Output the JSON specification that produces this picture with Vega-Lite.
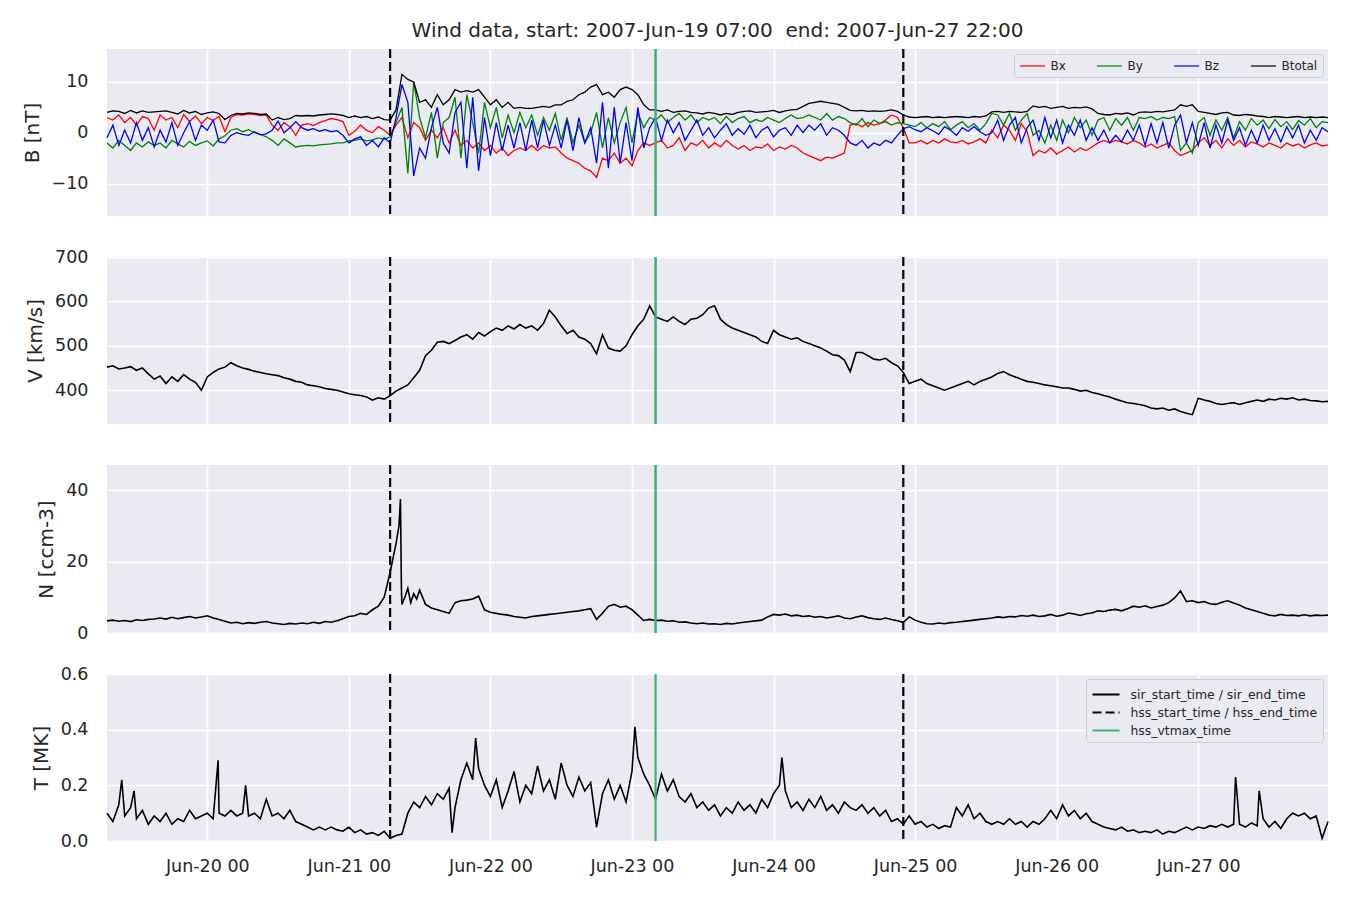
{
"$schema": "https://vega.github.io/schema/vega-lite/v6.json",
"background": "white",
"padding": {"left": 22, "top": 20, "right": 23, "bottom": 10},
"bounds": "flush",
"title": {"text": "Wind data, start: 2007-Jun-19 07:00\u00a0 end: 2007-Jun-27 22:00", "fontSize": 20, "font": "DejaVu Sans", "fontWeight": "normal", "color": "#262626", "anchor": "middle", "frame": "group", "offset": 7},
"datasets": {
"ev": [
{"t":"2007-06-21T07:00","kind":"hss_start_time / hss_end_time"},
{"t":"2007-06-24T22:00","kind":"hss_start_time / hss_end_time"},
{"t":"2007-06-23T04:00","kind":"hss_vtmax_time"}
],
"wind": [
{"t":"2007-06-19T07:00","Bx":3,"By":-2,"Bz":-1,"Btotal":4,"v":452,"n":3.4,"T":0.10},
{"t":"2007-06-19T08:00","Bx":2.5,"By":-3,"Bz":1.5,"Btotal":4.3,"v":455,"n":3.6,"T":0.07},
{"t":"2007-06-19T09:00","Bx":3.5,"By":-1.5,"Bz":-2.5,"Btotal":4.2,"v":448,"n":3.3,"T":0.13},
{"t":"2007-06-19T10:00","Bx":2,"By":-2.5,"Bz":0.5,"Btotal":3.8,"v":450,"n":3.5,"T":0.09},
{"t":"2007-06-19T11:00","Bx":3,"By":-3.5,"Bz":-2,"Btotal":4.4,"v":453,"n":3.2,"T":0.12},
{"t":"2007-06-19T12:00","Bx":1.5,"By":-2,"Bz":2,"Btotal":3.9,"v":445,"n":3.7,"T":0.08},
{"t":"2007-06-19T13:00","Bx":3.2,"By":-2.8,"Bz":-1.5,"Btotal":4.3,"v":450,"n":3.5,"T":0.11},
{"t":"2007-06-19T14:00","Bx":2.8,"By":-1.8,"Bz":1,"Btotal":4,"v":437,"n":3.8,"T":0.06},
{"t":"2007-06-19T15:00","Bx":0.5,"By":-2.5,"Bz":-2.8,"Btotal":4.1,"v":425,"n":3.9,"T":0.09},
{"t":"2007-06-19T16:00","Bx":3.5,"By":-2,"Bz":0.5,"Btotal":4.2,"v":432,"n":4.2,"T":0.07},
{"t":"2007-06-19T17:00","Bx":2.5,"By":-3,"Bz":-1.8,"Btotal":4.3,"v":415,"n":3.9,"T":0.10},
{"t":"2007-06-19T18:00","Bx":3,"By":-1.5,"Bz":2,"Btotal":4,"v":430,"n":4.4,"T":0.06},
{"t":"2007-06-19T19:00","Bx":1,"By":-2.2,"Bz":-2.5,"Btotal":3.7,"v":420,"n":4.0,"T":0.08},
{"t":"2007-06-19T20:00","Bx":3.6,"By":-2.8,"Bz":0,"Btotal":4.4,"v":435,"n":4.3,"T":0.07},
{"t":"2007-06-19T21:00","Bx":2.2,"By":-1.7,"Bz":2.2,"Btotal":3.9,"v":425,"n":4.6,"T":0.11},
{"t":"2007-06-19T22:00","Bx":3.3,"By":-2.5,"Bz":-1.5,"Btotal":4.2,"v":418,"n":4.2,"T":0.08},
{"t":"2007-06-19T23:00","Bx":1.8,"By":-2,"Bz":1.5,"Btotal":3.6,"v":400,"n":4.5,"T":0.09},
{"t":"2007-06-20T00:00","Bx":3,"By":-1.6,"Bz":0.5,"Btotal":3.9,"v":430,"n":4.8,"T":0.10},
{"t":"2007-06-20T01:00","Bx":2.4,"By":-2.6,"Bz":2.5,"Btotal":4.1,"v":440,"n":4.2,"T":0.08},
{"t":"2007-06-20T02:00","Bx":3.2,"By":-1.2,"Bz":-1.8,"Btotal":3.8,"v":448,"n":3.8,"T":0.10},
{"t":"2007-06-20T03:00","Bx":0.2,"By":-0.6,"Bz":-2,"Btotal":2.6,"v":452,"n":3.3,"T":0.09},
{"t":"2007-06-20T04:00","Bx":3,"By":0.5,"Bz":-0.5,"Btotal":3.4,"v":462,"n":2.8,"T":0.11},
{"t":"2007-06-20T05:00","Bx":3.6,"By":0.8,"Bz":0,"Btotal":3.8,"v":455,"n":3.0,"T":0.09},
{"t":"2007-06-20T06:00","Bx":3.5,"By":0.2,"Bz":-0.3,"Btotal":3.7,"v":450,"n":2.6,"T":0.10},
{"t":"2007-06-20T07:00","Bx":3.7,"By":0.6,"Bz":-0.5,"Btotal":3.9,"v":447,"n":2.9,"T":0.09},
{"t":"2007-06-20T08:00","Bx":3.6,"By":0,"Bz":0.2,"Btotal":3.8,"v":443,"n":2.7,"T":0.10},
{"t":"2007-06-20T09:00","Bx":3.4,"By":-0.3,"Bz":-0.4,"Btotal":3.6,"v":440,"n":3.0,"T":0.08},
{"t":"2007-06-20T10:00","Bx":3.5,"By":-0.8,"Bz":-0.2,"Btotal":3.7,"v":437,"n":3.2,"T":0.15},
{"t":"2007-06-20T11:00","Bx":1.5,"By":-1.5,"Bz":0.5,"Btotal":2.5,"v":435,"n":2.8,"T":0.09},
{"t":"2007-06-20T12:00","Bx":0.5,"By":-2.5,"Bz":2.3,"Btotal":3.0,"v":433,"n":2.6,"T":0.10},
{"t":"2007-06-20T13:00","Bx":2,"By":-1.2,"Bz":0,"Btotal":2.6,"v":428,"n":2.4,"T":0.08},
{"t":"2007-06-20T14:00","Bx":1.2,"By":-2,"Bz":1,"Btotal":2.8,"v":425,"n":2.7,"T":0.11},
{"t":"2007-06-20T15:00","Bx":-0.5,"By":-2.8,"Bz":2.2,"Btotal":3.4,"v":420,"n":2.5,"T":0.07},
{"t":"2007-06-20T16:00","Bx":1.5,"By":-2.6,"Bz":1,"Btotal":3.3,"v":418,"n":2.8,"T":0.06},
{"t":"2007-06-20T17:00","Bx":1.8,"By":-2.5,"Bz":0.5,"Btotal":3.4,"v":412,"n":2.6,"T":0.05},
{"t":"2007-06-20T18:00","Bx":1.4,"By":-2.6,"Bz":0.8,"Btotal":3.3,"v":410,"n":3.0,"T":0.04},
{"t":"2007-06-20T19:00","Bx":2.0,"By":-2.4,"Bz":0.3,"Btotal":3.5,"v":408,"n":2.7,"T":0.05},
{"t":"2007-06-20T20:00","Bx":2.4,"By":-2.3,"Bz":0.6,"Btotal":3.6,"v":404,"n":3.2,"T":0.04},
{"t":"2007-06-20T21:00","Bx":2.8,"By":-2.2,"Bz":0.2,"Btotal":3.7,"v":402,"n":3.0,"T":0.05},
{"t":"2007-06-20T22:00","Bx":2.6,"By":-2.0,"Bz":0.4,"Btotal":3.6,"v":400,"n":3.4,"T":0.04},
{"t":"2007-06-20T23:00","Bx":2.2,"By":-2.0,"Bz":-0.5,"Btotal":3.4,"v":396,"n":4.0,"T":0.035},
{"t":"2007-06-21T00:00","Bx":-0.5,"By":-1.6,"Bz":-2.0,"Btotal":3.0,"v":392,"n":4.6,"T":0.05},
{"t":"2007-06-21T01:00","Bx":0.3,"By":-1.5,"Bz":-1.2,"Btotal":3.3,"v":390,"n":4.8,"T":0.03},
{"t":"2007-06-21T02:00","Bx":1.5,"By":-1.2,"Bz":-0.8,"Btotal":3.0,"v":388,"n":5.5,"T":0.04},
{"t":"2007-06-21T03:00","Bx":0.5,"By":-1.6,"Bz":-2.5,"Btotal":3.2,"v":385,"n":5.2,"T":0.025},
{"t":"2007-06-21T04:00","Bx":0.0,"By":-1.4,"Bz":-1.5,"Btotal":2.8,"v":378,"n":6.5,"T":0.03},
{"t":"2007-06-21T05:00","Bx":1.2,"By":-1.0,"Bz":-2.8,"Btotal":3.1,"v":383,"n":7.5,"T":0.02},
{"t":"2007-06-21T06:00","Bx":0.5,"By":-1.3,"Bz":-1.0,"Btotal":2.6,"v":380,"n":10,"T":0.035},
{"t":"2007-06-21T07:00","Bx":-0.5,"By":-0.8,"Bz":-2.0,"Btotal":2.5,"v":388,"n":17,"T":0.01},
{"t":"2007-06-21T08:00","Bx":1.5,"By":2.0,"Bz":3.0,"Btotal":4.5,"v":398,"n":25,"T":0.02},
{"t":"2007-06-21T09:00","Bx":3,"By":5,"Bz":9.5,"Btotal":11.5,"v":405,"n":8,"T":0.025},
{"t":"2007-06-21T10:00","Bx":-1,"By":-8,"Bz":6,"Btotal":10.5,"v":412,"n":12.5,"T":0.10},
{"t":"2007-06-21T11:00","Bx":2,"By":10,"Bz":-8.5,"Btotal":10,"v":428,"n":11,"T":0.14},
{"t":"2007-06-21T12:00","Bx":1,"By":3,"Bz":-3,"Btotal":6,"v":445,"n":12,"T":0.12},
{"t":"2007-06-21T13:00","Bx":-1.5,"By":-1,"Bz":-5,"Btotal":6.5,"v":478,"n":8,"T":0.16},
{"t":"2007-06-21T14:00","Bx":0.5,"By":4,"Bz":1,"Btotal":5,"v":490,"n":7,"T":0.13},
{"t":"2007-06-21T15:00","Bx":-1,"By":-5,"Bz":5,"Btotal":7.5,"v":508,"n":6.5,"T":0.17},
{"t":"2007-06-21T16:00","Bx":1,"By":2,"Bz":-2,"Btotal":5.5,"v":510,"n":6.0,"T":0.15},
{"t":"2007-06-21T17:00","Bx":-2,"By":3,"Bz":-4,"Btotal":6.5,"v":505,"n":5.5,"T":0.19},
{"t":"2007-06-21T18:00","Bx":0.5,"By":7,"Bz":4,"Btotal":8.5,"v":512,"n":8.5,"T":0.12},
{"t":"2007-06-21T19:00","Bx":-2.5,"By":-5,"Bz":6,"Btotal":8,"v":520,"n":9.0,"T":0.22},
{"t":"2007-06-21T20:00","Bx":-1.5,"By":7.5,"Bz":-7,"Btotal":8.3,"v":525,"n":9.2,"T":0.28},
{"t":"2007-06-21T21:00","Bx":-3,"By":2,"Bz":7,"Btotal":8,"v":515,"n":9.5,"T":0.22},
{"t":"2007-06-21T22:00","Bx":-2,"By":-4,"Bz":-7.5,"Btotal":8.5,"v":530,"n":10.3,"T":0.26},
{"t":"2007-06-21T23:00","Bx":-3.5,"By":6,"Bz":3,"Btotal":7,"v":522,"n":6.5,"T":0.20},
{"t":"2007-06-22T00:00","Bx":-2.5,"By":1,"Bz":-4.5,"Btotal":5.5,"v":532,"n":5.8,"T":0.16},
{"t":"2007-06-22T01:00","Bx":-4,"By":5,"Bz":2,"Btotal":6.5,"v":540,"n":5.5,"T":0.22},
{"t":"2007-06-22T02:00","Bx":-3,"By":-1,"Bz":-3.5,"Btotal":5,"v":535,"n":5.2,"T":0.12},
{"t":"2007-06-22T03:00","Bx":-4.5,"By":3.5,"Bz":1.5,"Btotal":6,"v":545,"n":5.0,"T":0.18},
{"t":"2007-06-22T04:00","Bx":-3.5,"By":0,"Bz":-3,"Btotal":4.8,"v":538,"n":4.6,"T":0.25},
{"t":"2007-06-22T05:00","Bx":-3,"By":4,"Bz":2,"Btotal":5,"v":548,"n":4.4,"T":0.14},
{"t":"2007-06-22T06:00","Bx":-3.5,"By":1,"Bz":-3.5,"Btotal":4.8,"v":540,"n":4.2,"T":0.20},
{"t":"2007-06-22T07:00","Bx":-2.5,"By":3.5,"Bz":2.5,"Btotal":4.8,"v":545,"n":4.6,"T":0.17},
{"t":"2007-06-22T08:00","Bx":-3.5,"By":-0.5,"Bz":-3,"Btotal":5,"v":535,"n":4.8,"T":0.27},
{"t":"2007-06-22T09:00","Bx":-2.5,"By":3,"Bz":2.5,"Btotal":5.2,"v":550,"n":5.0,"T":0.18},
{"t":"2007-06-22T10:00","Bx":-3,"By":0.5,"Bz":-2.5,"Btotal":5,"v":580,"n":5.2,"T":0.22},
{"t":"2007-06-22T11:00","Bx":-2.8,"By":3.8,"Bz":1.5,"Btotal":5.5,"v":565,"n":5.4,"T":0.15},
{"t":"2007-06-22T12:00","Bx":-4,"By":-1.5,"Bz":-3,"Btotal":5.5,"v":545,"n":5.6,"T":0.28},
{"t":"2007-06-22T13:00","Bx":-5,"By":3,"Bz":2.5,"Btotal":6.2,"v":528,"n":5.8,"T":0.20},
{"t":"2007-06-22T14:00","Bx":-5.5,"By":-2,"Bz":-3.5,"Btotal":6.5,"v":535,"n":6.0,"T":0.16},
{"t":"2007-06-22T15:00","Bx":-6,"By":1.5,"Bz":3,"Btotal":7.5,"v":520,"n":6.2,"T":0.23},
{"t":"2007-06-22T16:00","Bx":-7,"By":-2,"Bz":-2,"Btotal":8,"v":515,"n":6.5,"T":0.18},
{"t":"2007-06-22T17:00","Bx":-7.5,"By":0,"Bz":1,"Btotal":9,"v":505,"n":6.8,"T":0.21},
{"t":"2007-06-22T18:00","Bx":-8.8,"By":4,"Bz":-6,"Btotal":9.5,"v":482,"n":3.8,"T":0.05},
{"t":"2007-06-22T19:00","Bx":-5,"By":-3,"Bz":6,"Btotal":7.5,"v":525,"n":5.5,"T":0.17},
{"t":"2007-06-22T20:00","Bx":-5.5,"By":3,"Bz":-7,"Btotal":8,"v":495,"n":7.5,"T":0.22},
{"t":"2007-06-22T21:00","Bx":-4,"By":-2,"Bz":5,"Btotal":7,"v":490,"n":8.0,"T":0.15},
{"t":"2007-06-22T22:00","Bx":-6,"By":2,"Bz":-6,"Btotal":8.5,"v":488,"n":7.2,"T":0.20},
{"t":"2007-06-22T23:00","Bx":-5,"By":5,"Bz":2,"Btotal":9,"v":500,"n":7.5,"T":0.14},
{"t":"2007-06-23T00:00","Bx":-6.5,"By":-2,"Bz":-5.5,"Btotal":8.5,"v":525,"n":6.5,"T":0.25},
{"t":"2007-06-23T01:00","Bx":-3.5,"By":4,"Bz":5,"Btotal":7.5,"v":545,"n":5.0,"T":0.30},
{"t":"2007-06-23T02:00","Bx":-2,"By":1,"Bz":-3,"Btotal":5.5,"v":560,"n":3.5,"T":0.24},
{"t":"2007-06-23T03:00","Bx":-2.5,"By":3,"Bz":1,"Btotal":4.5,"v":590,"n":3.8,"T":0.20},
{"t":"2007-06-23T04:00","Bx":-2,"By":2.5,"Bz":3,"Btotal":4.5,"v":565,"n":3.5,"T":0.15},
{"t":"2007-06-23T05:00","Bx":-1.5,"By":3.5,"Bz":-1.5,"Btotal":4.2,"v":560,"n":3.6,"T":0.24},
{"t":"2007-06-23T06:00","Bx":-3,"By":2,"Bz":2.5,"Btotal":4.5,"v":555,"n":3.3,"T":0.18},
{"t":"2007-06-23T07:00","Bx":-2.5,"By":3,"Bz":0,"Btotal":4.0,"v":565,"n":3.4,"T":0.22},
{"t":"2007-06-23T08:00","Bx":-1,"By":3.8,"Bz":2,"Btotal":4.2,"v":555,"n":3.0,"T":0.16},
{"t":"2007-06-23T09:00","Bx":-3.5,"By":2.5,"Bz":-1.5,"Btotal":4.3,"v":548,"n":3.1,"T":0.14},
{"t":"2007-06-23T10:00","Bx":-2,"By":3.5,"Bz":0.5,"Btotal":4.0,"v":560,"n":2.8,"T":0.17},
{"t":"2007-06-23T11:00","Bx":-2.5,"By":2,"Bz":2.5,"Btotal":3.9,"v":562,"n":2.6,"T":0.12},
{"t":"2007-06-23T12:00","Bx":-1.5,"By":3,"Bz":-0.5,"Btotal":3.7,"v":570,"n":2.8,"T":0.14},
{"t":"2007-06-23T13:00","Bx":-3,"By":2.5,"Bz":1,"Btotal":4.0,"v":585,"n":2.5,"T":0.11},
{"t":"2007-06-23T14:00","Bx":-2,"By":3,"Bz":-1,"Btotal":3.8,"v":590,"n":2.6,"T":0.13},
{"t":"2007-06-23T15:00","Bx":-2.8,"By":1.8,"Bz":0.5,"Btotal":3.5,"v":560,"n":2.4,"T":0.09},
{"t":"2007-06-23T16:00","Bx":-1.5,"By":3.2,"Bz":1.8,"Btotal":3.8,"v":548,"n":2.7,"T":0.12},
{"t":"2007-06-23T17:00","Bx":-2.5,"By":2,"Bz":-0.5,"Btotal":3.6,"v":540,"n":2.5,"T":0.10},
{"t":"2007-06-23T18:00","Bx":-3.2,"By":2.8,"Bz":0.8,"Btotal":4.0,"v":535,"n":2.8,"T":0.14},
{"t":"2007-06-23T19:00","Bx":-2.5,"By":3.2,"Bz":-0.3,"Btotal":4.2,"v":530,"n":3.0,"T":0.11},
{"t":"2007-06-23T20:00","Bx":-3.5,"By":2,"Bz":1.5,"Btotal":4.3,"v":525,"n":3.2,"T":0.13},
{"t":"2007-06-23T21:00","Bx":-2.8,"By":2.6,"Bz":-1,"Btotal":4.0,"v":520,"n":3.4,"T":0.10},
{"t":"2007-06-23T22:00","Bx":-3,"By":2.2,"Bz":0.5,"Btotal":4.1,"v":510,"n":3.6,"T":0.15},
{"t":"2007-06-23T23:00","Bx":-2.2,"By":3,"Bz":1.2,"Btotal":4.2,"v":505,"n":4.5,"T":0.12},
{"t":"2007-06-24T00:00","Bx":-3.5,"By":2.5,"Bz":-0.8,"Btotal":4.4,"v":535,"n":5.2,"T":0.17},
{"t":"2007-06-24T01:00","Bx":-2.8,"By":2,"Bz":0.5,"Btotal":4.0,"v":525,"n":5.0,"T":0.20},
{"t":"2007-06-24T02:00","Bx":-3.2,"By":2.8,"Bz":1,"Btotal":4.3,"v":520,"n":5.3,"T":0.18},
{"t":"2007-06-24T03:00","Bx":-2.5,"By":3.5,"Bz":-0.5,"Btotal":4.5,"v":515,"n":4.8,"T":0.12},
{"t":"2007-06-24T04:00","Bx":-3,"By":2.8,"Bz":1.5,"Btotal":4.6,"v":518,"n":5.0,"T":0.14},
{"t":"2007-06-24T05:00","Bx":-4,"By":3,"Bz":0,"Btotal":5.2,"v":510,"n":4.6,"T":0.11},
{"t":"2007-06-24T06:00","Bx":-4.5,"By":3.5,"Bz":1.5,"Btotal":5.8,"v":505,"n":4.8,"T":0.15},
{"t":"2007-06-24T07:00","Bx":-5,"By":3,"Bz":0.5,"Btotal":6.0,"v":500,"n":4.4,"T":0.12},
{"t":"2007-06-24T08:00","Bx":-5.5,"By":2.5,"Bz":1.8,"Btotal":6.2,"v":495,"n":4.6,"T":0.16},
{"t":"2007-06-24T09:00","Bx":-4.8,"By":3.8,"Bz":-0.5,"Btotal":6.0,"v":488,"n":4.2,"T":0.11},
{"t":"2007-06-24T10:00","Bx":-5,"By":2.5,"Bz":1,"Btotal":5.8,"v":480,"n":4.5,"T":0.13},
{"t":"2007-06-24T11:00","Bx":-4.5,"By":3.2,"Bz":0.5,"Btotal":5.6,"v":478,"n":4.8,"T":0.10},
{"t":"2007-06-24T12:00","Bx":-4,"By":2.8,"Bz":-0.5,"Btotal":5.0,"v":468,"n":4.2,"T":0.14},
{"t":"2007-06-24T13:00","Bx":1.5,"By":2,"Bz":-2,"Btotal":4.4,"v":442,"n":4.0,"T":0.12},
{"t":"2007-06-24T14:00","Bx":1.8,"By":1.5,"Bz":-2.5,"Btotal":4.3,"v":485,"n":4.5,"T":0.11},
{"t":"2007-06-24T15:00","Bx":1.2,"By":2.8,"Bz":-1.5,"Btotal":4.4,"v":485,"n":4.8,"T":0.13},
{"t":"2007-06-24T16:00","Bx":2,"By":1.2,"Bz":-3,"Btotal":4.2,"v":478,"n":4.3,"T":0.10},
{"t":"2007-06-24T17:00","Bx":1.5,"By":2.5,"Bz":-2,"Btotal":4.3,"v":470,"n":4.0,"T":0.12},
{"t":"2007-06-24T18:00","Bx":1.8,"By":1.8,"Bz":-2.5,"Btotal":4.2,"v":468,"n":3.8,"T":0.09},
{"t":"2007-06-24T19:00","Bx":2.5,"By":2.2,"Bz":-1.5,"Btotal":4.3,"v":472,"n":4.2,"T":0.11},
{"t":"2007-06-24T20:00","Bx":3.5,"By":1.5,"Bz":-2,"Btotal":4.5,"v":462,"n":3.8,"T":0.07},
{"t":"2007-06-24T21:00","Bx":3,"By":2,"Bz":-0.5,"Btotal":4.2,"v":455,"n":3.4,"T":0.08},
{"t":"2007-06-24T22:00","Bx":1,"By":1.8,"Bz":0.8,"Btotal":3.5,"v":440,"n":3.0,"T":0.06},
{"t":"2007-06-24T23:00","Bx":-2,"By":1.5,"Bz":1.2,"Btotal":3.1,"v":415,"n":4.5,"T":0.09},
{"t":"2007-06-25T00:00","Bx":-2,"By":1.2,"Bz":0.6,"Btotal":3.0,"v":420,"n":3.6,"T":0.06},
{"t":"2007-06-25T01:00","Bx":-1.5,"By":2,"Bz":0.2,"Btotal":3.1,"v":425,"n":3.0,"T":0.07},
{"t":"2007-06-25T02:00","Bx":-2.2,"By":1,"Bz":1,"Btotal":3.2,"v":415,"n":2.6,"T":0.05},
{"t":"2007-06-25T03:00","Bx":-1.5,"By":1.8,"Bz":0.4,"Btotal":3.0,"v":410,"n":2.5,"T":0.06},
{"t":"2007-06-25T04:00","Bx":-2,"By":1.2,"Bz":-0.3,"Btotal":3.1,"v":405,"n":2.8,"T":0.045},
{"t":"2007-06-25T05:00","Bx":-1.2,"By":2.2,"Bz":1.2,"Btotal":3.0,"v":400,"n":2.6,"T":0.055},
{"t":"2007-06-25T06:00","Bx":-1.8,"By":0.6,"Bz":0.5,"Btotal":3.1,"v":405,"n":2.9,"T":0.05},
{"t":"2007-06-25T07:00","Bx":-2,"By":1.5,"Bz":-0.5,"Btotal":3.2,"v":410,"n":3.0,"T":0.12},
{"t":"2007-06-25T08:00","Bx":-1.5,"By":2.2,"Bz":1,"Btotal":3.1,"v":415,"n":3.2,"T":0.09},
{"t":"2007-06-25T09:00","Bx":-2.2,"By":1,"Bz":0.3,"Btotal":3.0,"v":420,"n":3.4,"T":0.13},
{"t":"2007-06-25T10:00","Bx":-1.8,"By":1.8,"Bz":1.2,"Btotal":3.2,"v":412,"n":3.6,"T":0.08},
{"t":"2007-06-25T11:00","Bx":-1.2,"By":0.5,"Bz":0.2,"Btotal":3.1,"v":420,"n":3.8,"T":0.10},
{"t":"2007-06-25T12:00","Bx":-2,"By":1.8,"Bz":-0.5,"Btotal":3.3,"v":425,"n":4.0,"T":0.07},
{"t":"2007-06-25T13:00","Bx":0.5,"By":3.8,"Bz":0,"Btotal":4.1,"v":430,"n":4.2,"T":0.06},
{"t":"2007-06-25T14:00","Bx":-1,"By":3.5,"Bz":2.5,"Btotal":4.2,"v":438,"n":4.5,"T":0.07},
{"t":"2007-06-25T15:00","Bx":1.5,"By":1.5,"Bz":-1.5,"Btotal":4.0,"v":442,"n":4.3,"T":0.06},
{"t":"2007-06-25T16:00","Bx":0.5,"By":3.8,"Bz":1.5,"Btotal":4.2,"v":435,"n":4.6,"T":0.08},
{"t":"2007-06-25T17:00","Bx":-1.5,"By":0.5,"Bz":3,"Btotal":4.1,"v":430,"n":4.5,"T":0.06},
{"t":"2007-06-25T18:00","Bx":1.8,"By":2.5,"Bz":-2,"Btotal":4.0,"v":425,"n":4.9,"T":0.07},
{"t":"2007-06-25T19:00","Bx":0.2,"By":3.8,"Bz":1,"Btotal":4.2,"v":420,"n":4.7,"T":0.05},
{"t":"2007-06-25T20:00","Bx":-4.5,"By":-0.5,"Bz":2.5,"Btotal":5.3,"v":418,"n":5.0,"T":0.07},
{"t":"2007-06-25T21:00","Bx":-3.5,"By":0.5,"Bz":-1.5,"Btotal":5.0,"v":415,"n":4.6,"T":0.06},
{"t":"2007-06-25T22:00","Bx":-4,"By":-2,"Bz":3,"Btotal":5.2,"v":412,"n":4.8,"T":0.08},
{"t":"2007-06-25T23:00","Bx":-3,"By":1.5,"Bz":-1,"Btotal":4.8,"v":410,"n":5.2,"T":0.11},
{"t":"2007-06-26T00:00","Bx":-4.2,"By":-1.5,"Bz":2.5,"Btotal":5.0,"v":408,"n":4.7,"T":0.08},
{"t":"2007-06-26T01:00","Bx":-3.5,"By":2.5,"Bz":-2,"Btotal":5.2,"v":405,"n":5.0,"T":0.13},
{"t":"2007-06-26T02:00","Bx":-2.8,"By":0,"Bz":1.5,"Btotal":4.8,"v":405,"n":5.6,"T":0.09},
{"t":"2007-06-26T03:00","Bx":-3.8,"By":3,"Bz":-0.5,"Btotal":5.0,"v":402,"n":5.3,"T":0.11},
{"t":"2007-06-26T04:00","Bx":-3,"By":1,"Bz":2.5,"Btotal":4.9,"v":398,"n":4.9,"T":0.08},
{"t":"2007-06-26T05:00","Bx":-3.5,"By":2.5,"Bz":-1.5,"Btotal":5.1,"v":400,"n":5.4,"T":0.10},
{"t":"2007-06-26T06:00","Bx":-2.8,"By":-0.5,"Bz":1,"Btotal":4.7,"v":395,"n":5.6,"T":0.07},
{"t":"2007-06-26T07:00","Bx":-2,"By":2.5,"Bz":-1.5,"Btotal":3.8,"v":392,"n":6.2,"T":0.06},
{"t":"2007-06-26T08:00","Bx":-1.5,"By":3,"Bz":0.5,"Btotal":3.6,"v":388,"n":6.0,"T":0.05},
{"t":"2007-06-26T09:00","Bx":-2,"By":0.5,"Bz":-2,"Btotal":3.5,"v":385,"n":6.4,"T":0.045},
{"t":"2007-06-26T10:00","Bx":-1.5,"By":2.8,"Bz":-0.5,"Btotal":3.8,"v":380,"n":6.6,"T":0.04},
{"t":"2007-06-26T11:00","Bx":-1.8,"By":1.5,"Bz":-1.8,"Btotal":3.7,"v":376,"n":6.2,"T":0.05},
{"t":"2007-06-26T12:00","Bx":-2.2,"By":3,"Bz":0.5,"Btotal":3.9,"v":372,"n":6.8,"T":0.035},
{"t":"2007-06-26T13:00","Bx":-1.5,"By":0.5,"Bz":-1.5,"Btotal":3.5,"v":370,"n":7.5,"T":0.04},
{"t":"2007-06-26T14:00","Bx":-2,"By":3,"Bz":1.5,"Btotal":4.0,"v":368,"n":7.2,"T":0.03},
{"t":"2007-06-26T15:00","Bx":-2.8,"By":2.8,"Bz":-2.5,"Btotal":4.1,"v":365,"n":7.6,"T":0.035},
{"t":"2007-06-26T16:00","Bx":-2.2,"By":3.2,"Bz":1.8,"Btotal":4.0,"v":360,"n":7.0,"T":0.03},
{"t":"2007-06-26T17:00","Bx":-3,"By":2.5,"Bz":-2,"Btotal":4.2,"v":358,"n":7.4,"T":0.04},
{"t":"2007-06-26T18:00","Bx":-2.5,"By":3,"Bz":2,"Btotal":4.1,"v":360,"n":7.8,"T":0.025},
{"t":"2007-06-26T19:00","Bx":-2,"By":2.8,"Bz":-3,"Btotal":4.3,"v":355,"n":8.5,"T":0.035},
{"t":"2007-06-26T20:00","Bx":-3.5,"By":3.2,"Bz":1.5,"Btotal":4.5,"v":358,"n":9.8,"T":0.03},
{"t":"2007-06-26T21:00","Bx":-4.5,"By":-3.5,"Bz":3.5,"Btotal":5.5,"v":352,"n":11.8,"T":0.04},
{"t":"2007-06-26T22:00","Bx":-4,"By":-2,"Bz":-2,"Btotal":5.2,"v":348,"n":8.8,"T":0.05},
{"t":"2007-06-26T23:00","Bx":-3.5,"By":-4,"Bz":2,"Btotal":5.5,"v":345,"n":9.0,"T":0.04},
{"t":"2007-06-27T00:00","Bx":-2,"By":2,"Bz":-2.5,"Btotal":4.2,"v":382,"n":8.5,"T":0.05},
{"t":"2007-06-27T01:00","Bx":-1,"By":3,"Bz":2,"Btotal":4.0,"v":378,"n":8.8,"T":0.045},
{"t":"2007-06-27T02:00","Bx":-2.5,"By":-0.5,"Bz":-3,"Btotal":3.8,"v":375,"n":8.2,"T":0.055},
{"t":"2007-06-27T03:00","Bx":-1.5,"By":2.5,"Bz":1.5,"Btotal":3.6,"v":370,"n":8.0,"T":0.05},
{"t":"2007-06-27T04:00","Bx":-3,"By":0.5,"Bz":-2,"Btotal":3.9,"v":368,"n":8.6,"T":0.06},
{"t":"2007-06-27T05:00","Bx":-1.2,"By":3,"Bz":2.5,"Btotal":4.0,"v":370,"n":9.0,"T":0.05},
{"t":"2007-06-27T06:00","Bx":-2.5,"By":-1,"Bz":-1.5,"Btotal":3.5,"v":372,"n":8.4,"T":0.06},
{"t":"2007-06-27T07:00","Bx":-1.5,"By":2.2,"Bz":1,"Btotal":3.4,"v":368,"n":7.8,"T":0.06},
{"t":"2007-06-27T08:00","Bx":-2.8,"By":0.5,"Bz":-2.5,"Btotal":3.6,"v":372,"n":7.0,"T":0.05},
{"t":"2007-06-27T09:00","Bx":-1.8,"By":2.8,"Bz":0.5,"Btotal":3.5,"v":375,"n":6.5,"T":0.065},
{"t":"2007-06-27T10:00","Bx":-2.2,"By":1.5,"Bz":-2,"Btotal":3.3,"v":378,"n":6.0,"T":0.055},
{"t":"2007-06-27T11:00","Bx":-2.8,"By":2.5,"Bz":1.5,"Btotal":3.2,"v":375,"n":5.5,"T":0.08},
{"t":"2007-06-27T12:00","Bx":-2,"By":0.8,"Bz":-1.5,"Btotal":3.0,"v":380,"n":5.0,"T":0.05},
{"t":"2007-06-27T13:00","Bx":-2.5,"By":2.6,"Bz":0.8,"Btotal":3.2,"v":378,"n":4.8,"T":0.07},
{"t":"2007-06-27T14:00","Bx":-3,"By":1.2,"Bz":-1.8,"Btotal":3.1,"v":382,"n":5.2,"T":0.045},
{"t":"2007-06-27T15:00","Bx":-2,"By":2.2,"Bz":1.2,"Btotal":3.0,"v":380,"n":4.9,"T":0.08},
{"t":"2007-06-27T16:00","Bx":-2.6,"By":0.6,"Bz":-1,"Btotal":3.1,"v":383,"n":5.0,"T":0.10},
{"t":"2007-06-27T17:00","Bx":-2.2,"By":2.4,"Bz":1.5,"Btotal":3.2,"v":378,"n":4.8,"T":0.09},
{"t":"2007-06-27T18:00","Bx":-3,"By":1.5,"Bz":-2,"Btotal":3.0,"v":380,"n":5.1,"T":0.10},
{"t":"2007-06-27T19:00","Bx":-2.4,"By":2.8,"Bz":0.5,"Btotal":3.1,"v":377,"n":4.8,"T":0.08},
{"t":"2007-06-27T20:00","Bx":-2,"By":1,"Bz":-1.5,"Btotal":3.0,"v":376,"n":5.0,"T":0.09},
{"t":"2007-06-27T21:00","Bx":-2.6,"By":2.2,"Bz":1,"Btotal":3.1,"v":374,"n":4.9,"T":0.01},
{"t":"2007-06-27T22:00","Bx":-2.4,"By":2,"Bz":0.2,"Btotal":3.0,"v":375,"n":5.0,"T":0.07},
{"t":"2007-06-19T09:30","T":0.22},
{"t":"2007-06-19T11:35","T":0.18},
{"t":"2007-06-20T01:50","T":0.29},
{"t":"2007-06-20T06:30","T":0.20},
{"t":"2007-06-21T07:30","n":21},
{"t":"2007-06-21T08:30","n":30},
{"t":"2007-06-21T08:45","n":37.5},
{"t":"2007-06-21T08:55","n":12},
{"t":"2007-06-21T09:30","n":10},
{"t":"2007-06-21T10:30","n":8.5},
{"t":"2007-06-21T11:30","n":9.5},
{"t":"2007-06-21T17:30","T":0.03},
{"t":"2007-06-21T21:30","T":0.37},
{"t":"2007-06-23T00:30","T":0.41},
{"t":"2007-06-24T01:25","T":0.30},
{"t":"2007-06-27T06:20","T":0.23},
{"t":"2007-06-27T10:20","T":0.18}
]
},
"data": {"name": "wind"},
"spacing": 41,
"resolve": {"scale": {"color": "independent", "strokeDash": "independent"}, "legend": {"color": "independent", "strokeDash": "independent"}},
"config": {
"view": {"fill": "#EAEAF2", "stroke": null},
"font": "DejaVu Sans",
"axis": {"domain": false, "ticks": false, "tickSize": 0, "gridColor": "white", "gridWidth": 1.6, "gridOpacity": 1, "labelFont": "DejaVu Sans", "labelFontSize": 17.5, "labelColor": "#262626", "titleFont": "DejaVu Sans", "titleFontSize": 20, "titleFontWeight": "normal", "titleColor": "#262626"},
"axisY": {"labelPadding": 19, "titlePadding": 9},
"axisX": {"labelPadding": 16},
"legend": {"title": null, "orient": "top-right", "offset": 5, "labelFont": "DejaVu Sans", "labelColor": "#262626", "padding": 5, "fillColor": "#EAEAF2", "strokeColor": "#cccccc", "cornerRadius": 3, "labelLimit": 400}
},
"vconcat": [
{
"width": 1221, "height": 167,
"layer": [
{"transform": [{"fold": ["Bx", "By", "Bz", "Btotal"], "as": ["comp", "val"]}, {"filter": "isValid(datum.val)"}],
 "mark": {"type": "line", "strokeWidth": 1.3},
 "encoding": {
  "x": {"field": "t", "type": "temporal", "scale": {"domain": [{"year": 2007, "month": "jun", "date": 19, "hours": 7}, {"year": 2007, "month": "jun", "date": 27, "hours": 22}]}, "axis": {"labels": false, "title": null, "tickCount": {"interval": "day", "step": 1}}},
  "y": {"field": "val", "type": "quantitative", "scale": {"domain": [-16.4, 16.5], "nice": false, "zero": false}, "axis": {"values": [-10, 0, 10], "title": "B [nT]"}},
  "color": {"field": "comp", "type": "nominal", "scale": {"domain": ["Bx", "By", "Bz", "Btotal"], "range": ["#ff0000", "#008000", "#0000ff", "#000000"]},
   "legend": {"direction": "horizontal", "symbolType": "M-2.1,0H2.1", "symbolSize": 144, "symbolStrokeWidth": 1.2, "symbolOffset": 6.5, "labelOffset": 11, "columnPadding": 28, "labelFontSize": 12}}
 }},
{"data": {"name": "ev"}, "transform": [{"filter": "datum.kind != 'hss_vtmax_time'"}],
 "mark": {"type": "rule", "color": "black", "strokeWidth": 2.2, "strokeDash": [9, 4]},
 "encoding": {"x": {"field": "t", "type": "temporal"}}},
{"data": {"name": "ev"}, "transform": [{"filter": "datum.kind == 'hss_vtmax_time'"}],
 "mark": {"type": "rule", "color": "#3cb371", "strokeWidth": 2.5},
 "encoding": {"x": {"field": "t", "type": "temporal"}}}
]
},
{
"width": 1221, "height": 167,
"layer": [
{"transform": [{"filter": "isValid(datum.v)"}],
 "mark": {"type": "line", "strokeWidth": 1.6, "color": "black"},
 "encoding": {
  "x": {"field": "t", "type": "temporal", "scale": {"domain": [{"year": 2007, "month": "jun", "date": 19, "hours": 7}, {"year": 2007, "month": "jun", "date": 27, "hours": 22}]}, "axis": {"labels": false, "title": null, "tickCount": {"interval": "day", "step": 1}}},
  "y": {"field": "v", "type": "quantitative", "scale": {"domain": [324, 700], "nice": false, "zero": false}, "axis": {"values": [400, 500, 600, 700], "title": "V [km/s]"}}
 }},
{"data": {"name": "ev"}, "transform": [{"filter": "datum.kind != 'hss_vtmax_time'"}],
 "mark": {"type": "rule", "color": "black", "strokeWidth": 2.2, "strokeDash": [9, 4]},
 "encoding": {"x": {"field": "t", "type": "temporal"}}},
{"data": {"name": "ev"}, "transform": [{"filter": "datum.kind == 'hss_vtmax_time'"}],
 "mark": {"type": "rule", "color": "#3cb371", "strokeWidth": 2.5},
 "encoding": {"x": {"field": "t", "type": "temporal"}}}
]
},
{
"width": 1221, "height": 168,
"layer": [
{"transform": [{"filter": "isValid(datum.n)"}],
 "mark": {"type": "line", "strokeWidth": 1.6, "color": "black"},
 "encoding": {
  "x": {"field": "t", "type": "temporal", "scale": {"domain": [{"year": 2007, "month": "jun", "date": 19, "hours": 7}, {"year": 2007, "month": "jun", "date": 27, "hours": 22}]}, "axis": {"labels": false, "title": null, "tickCount": {"interval": "day", "step": 1}}},
  "y": {"field": "n", "type": "quantitative", "scale": {"domain": [0, 47], "nice": false}, "axis": {"values": [0, 20, 40], "title": "N [ccm-3]"}}
 }},
{"data": {"name": "ev"}, "transform": [{"filter": "datum.kind != 'hss_vtmax_time'"}],
 "mark": {"type": "rule", "color": "black", "strokeWidth": 2.2, "strokeDash": [9, 4]},
 "encoding": {"x": {"field": "t", "type": "temporal"}}},
{"data": {"name": "ev"}, "transform": [{"filter": "datum.kind == 'hss_vtmax_time'"}],
 "mark": {"type": "rule", "color": "#3cb371", "strokeWidth": 2.5},
 "encoding": {"x": {"field": "t", "type": "temporal"}}}
]
},
{
"width": 1221, "height": 167,
"layer": [
{"transform": [{"filter": "isValid(datum.T)"}],
 "mark": {"type": "line", "strokeWidth": 1.6, "color": "black"},
 "encoding": {
  "x": {"field": "t", "type": "temporal", "scale": {"domain": [{"year": 2007, "month": "jun", "date": 19, "hours": 7}, {"year": 2007, "month": "jun", "date": 27, "hours": 22}]}, "axis": {"title": null, "format": "%b-%d %H", "tickCount": {"interval": "day", "step": 1}}},
  "y": {"field": "T", "type": "quantitative", "scale": {"domain": [0, 0.6], "nice": false}, "axis": {"values": [0, 0.2, 0.4, 0.6], "format": ".1f", "title": "T [MK]"}}
 }},
{"data": {"name": "ev"},
 "mark": {"type": "rule", "strokeWidth": 2.2},
 "encoding": {
  "x": {"field": "t", "type": "temporal"},
  "color": {"field": "kind", "type": "nominal", "scale": {"domain": ["sir_start_time / sir_end_time", "hss_start_time / hss_end_time", "hss_vtmax_time"], "range": ["#000000", "#000000", "#3cb371"]},
   "legend": {"symbolType": "M-1.5,0H1.5", "symbolSize": 324, "symbolStrokeWidth": 2.2, "symbolOffset": 4.5, "labelOffset": 14, "rowPadding": 1, "labelFontSize": 12.4}},
  "strokeDash": {"field": "kind", "type": "nominal", "scale": {"domain": ["sir_start_time / sir_end_time", "hss_start_time / hss_end_time", "hss_vtmax_time"], "range": [[1, 0], [9, 4], [1, 0]]},
   "legend": {"symbolType": "M-1.5,0H1.5", "symbolSize": 324, "symbolStrokeWidth": 2.2, "symbolOffset": 4.5, "labelOffset": 14, "rowPadding": 1, "labelFontSize": 12.4}}
 }}
]
}
]
}
